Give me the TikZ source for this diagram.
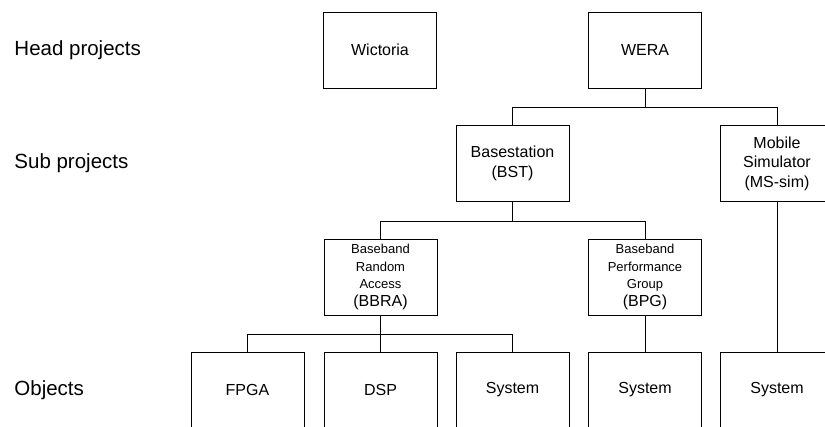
\documentclass[tikz,border=0pt]{standalone}
\usepackage{fontspec}
\setmainfont{Liberation Sans}
\usepackage{tikz}

\begin{document}
\begin{tikzpicture}[x=1pt, y=-1pt, line width=0.9pt,
    projbox/.style={draw, minimum width=113pt, minimum height=76pt, inner sep=0pt,
                    align=center, font=\fontsize{16}{20}\selectfont},
    level/.style={anchor=west, inner sep=0pt, font=\fontsize{20.5}{24}\selectfont}]
            \clip (0,0) rectangle (825,426);
            \draw (14,50) node[level] (headlbl) {Head projects};
            \draw (14,163) node[level] (sublbl) {Sub projects};
            \draw (14,390) node[level] (objlbl) {Objects};
            \draw (380,50) node[projbox] (wict) {Wictoria};
            \draw (645,50) node[projbox] (wera) {WERA};
            \draw (512.5,163.5) node[projbox] (bst) {Basestation\\(BST)};
            \draw (777,163.5) node[projbox, font=\fontsize{16}{19.5}\selectfont] (mssim) {Mobile\\Simulator\\(MS-sim)};
            \draw (380.5,277) node[projbox, font=\fontsize{13}{17.5}\selectfont] (bbra) {Baseband\\Random\\Access\\{\fontsize{16}{19}\selectfont(BBRA)}};
            \draw (645,277) node[projbox, font=\fontsize{13}{17.5}\selectfont] (bpg) {Baseband\\Performance\\Group\\{\fontsize{16}{19}\selectfont(BPG)}};
            \draw (247.5,390) node[projbox] (fpga) {FPGA};
            \draw (380.5,390) node[projbox] (dsp) {DSP};
            \draw (512.5,390) node[projbox] (sysa) {System};
            \draw (645,390) node[projbox] (sysb) {System};
            \draw (777,390) node[projbox] (sysc) {System};
            \draw (wera.south) -- ++(0,18.5) -| (bst.north)
                  (wera.south) -- ++(0,18.5) -| (mssim.north)
                  (bst.south) -- ++(0,19) -| (bbra.north)
                  (bst.south) -- ++(0,19) -| (bpg.north)
                  (bbra.south) -- ++(0,18.5) -| (fpga.north)
                  (bbra.south) -- ++(0,18.5) -| (dsp.north)
                  (bbra.south) -- ++(0,18.5) -| (sysa.north)
                  (bpg.south) -- (sysb.north)
                  (mssim.south) -- (sysc.north);
        \end{tikzpicture}
\end{document}
